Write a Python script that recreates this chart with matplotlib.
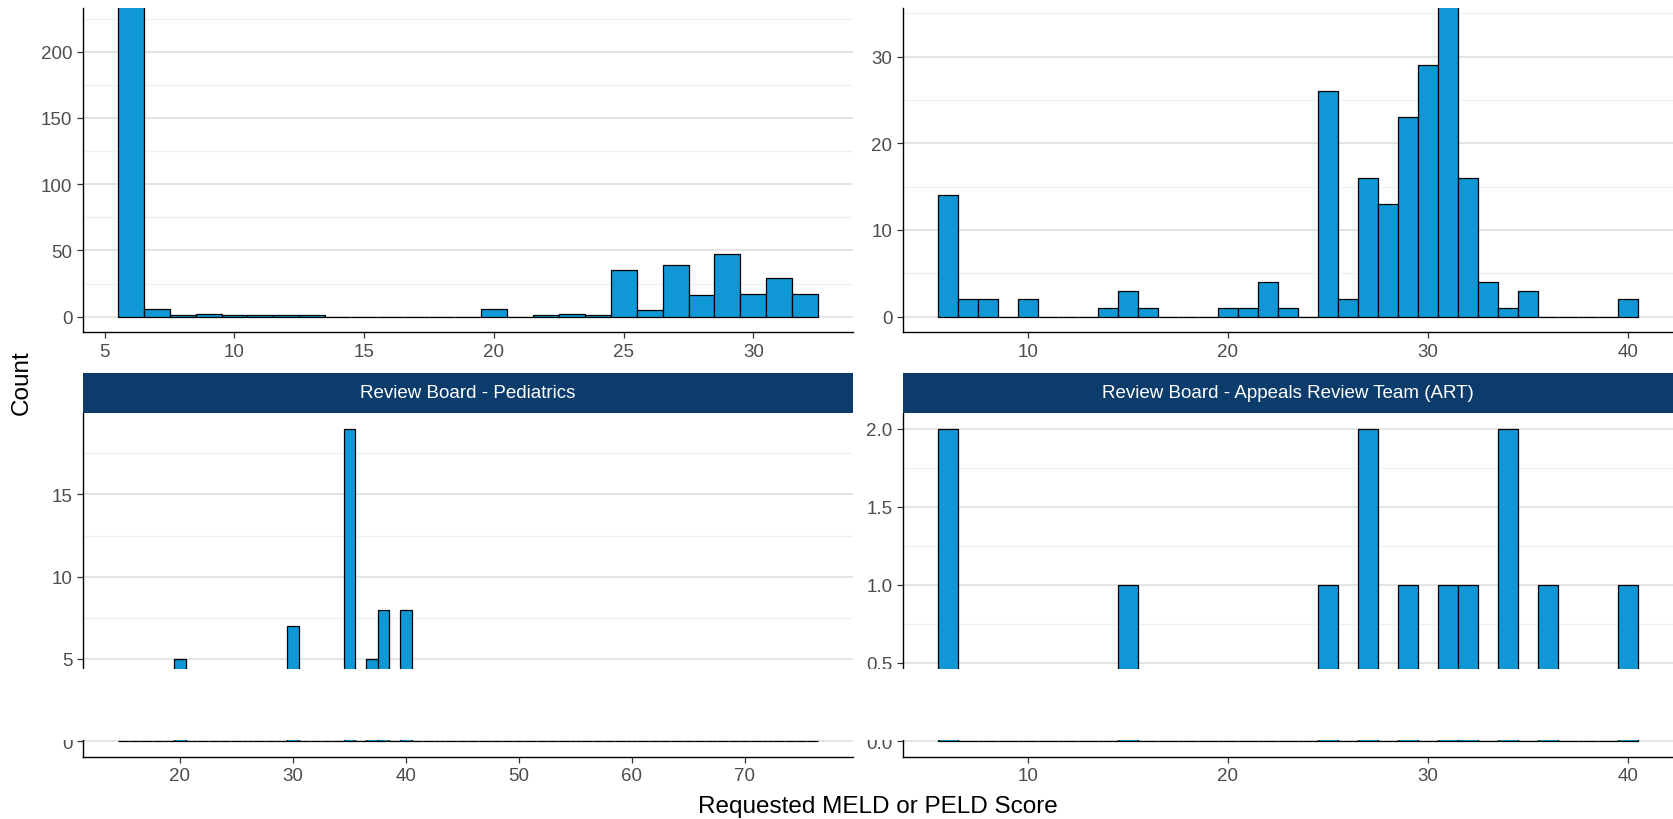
import matplotlib
matplotlib.use("Agg")
import matplotlib.pyplot as plt
from matplotlib.patches import Rectangle
import numpy as np

plt.rcParams['font.family'] = ['Liberation Sans', 'DejaVu Sans']

W, H = 1673, 820
DPI = 100

# ---------------- data (bin centres, binwidth 1) ----------------
tl_bins = list(range(6, 33))
tl_counts = [236, 6, 1, 2, 1, 1, 1, 1, 0, 0, 0, 0, 0, 0, 6, 0, 1, 2, 1,
             35, 5, 39, 16, 47, 17, 29, 17]
tl_xticks = [5, 10, 15, 20, 25, 30]
tl_yticks = [0, 50, 100, 150, 200]

tr_bins = list(range(6, 41))
tr_counts = [14, 2, 2, 0, 2, 0, 0, 0, 1, 3, 1, 0, 0, 0, 1, 1, 4, 1, 0,
             26, 2, 16, 13, 23, 29, 36, 16, 4, 1, 3, 0, 0, 0, 0, 2]
tr_xticks = [10, 20, 30, 40]
tr_yticks = [0, 10, 20, 30]

bl_bins = list(range(15, 77))
bl_values = {20: 5, 30: 7, 35: 19, 37: 5, 38: 8, 40: 8}
bl_counts = [bl_values.get(b, 0) for b in bl_bins]
bl_xticks = [20, 30, 40, 50, 60, 70]
bl_yticks = [0, 5, 10, 15]

br_bins = list(range(6, 41))
br_values = {6: 2, 15: 1, 25: 1, 27: 2, 29: 1, 31: 1, 32: 1, 34: 2, 36: 1, 40: 1}
br_counts = [br_values.get(b, 0) for b in br_bins]
br_xticks = [10, 20, 30, 40]
br_yticks = [0.0, 0.5, 1.0, 1.5, 2.0]
br_ylabels = ['0.0', '0.5', '1.0', '1.5', '2.0']

strip_bl = "Review Board - Pediatrics"
strip_br = "Review Board - Appeals Review Team (ART)"
xlabel = "Requested MELD or PELD Score"
ylabel = "Count"

# ---------------- style ----------------
BAR = "#1097d5"
STRIP = "#0c3c6b"
GRID_MAJ = "#dcdcdc"
GRID_MIN = "#f0f0f0"
TICKC = "#4d4d4d"
FS = 13.5

fig = plt.figure(figsize=(W / DPI, H / DPI), dpi=DPI)
fig.patch.set_facecolor("white")


def rect(x0, y0, x1, y1):
    return [x0 / W, 1 - y1 / H, (x1 - x0) / W, (y1 - y0) / H]


def panel(box, bins, counts, xticks, yticks, ylabels=None, ytop=None):
    ax = fig.add_axes(rect(*box))
    bins = np.asarray(bins, float)
    counts = np.asarray(counts, float)
    ax.bar(bins, counts, width=1.0, color=BAR, edgecolor="black",
           linewidth=0.9, zorder=3)
    ax.set_xticks(xticks)
    ax.set_yticks(yticks)
    if ylabels is not None:
        ax.set_yticklabels(ylabels)
    step = yticks[1] - yticks[0]
    minors = [t + step / 2 for t in yticks]
    ax.set_yticks(minors, minor=True)
    lo, hi = bins.min() - 0.5, bins.max() + 0.5
    span = hi - lo
    ax.set_xlim(lo - 0.05 * span, hi + 0.05 * span)
    cmax = counts.max()
    ax.set_ylim(-0.05 * cmax, ytop if ytop is not None else 1.05 * cmax)
    ax.yaxis.grid(True, which="major", color=GRID_MAJ, lw=1.1, zorder=0)
    ax.yaxis.grid(True, which="minor", color=GRID_MIN, lw=1.0, zorder=0)
    ax.xaxis.grid(False)
    ax.set_axisbelow(True)
    for s in ["top", "right"]:
        ax.spines[s].set_visible(False)
    for s in ["left", "bottom"]:
        ax.spines[s].set_color("black")
        ax.spines[s].set_linewidth(1.0)
    ax.tick_params(axis="both", which="major", length=4, width=0.9,
                   color="#333333", labelcolor=TICKC, labelsize=FS, pad=3.5)
    ax.tick_params(axis="y", which="minor", length=0)
    ax.set_facecolor("white")
    return ax


LX0, LX1 = 82.7, 853.3
RX0, RX1 = 902.7, 1673
TY0, TY1 = 9, 333.3
BY0, BY1 = 414, 757.7
SY0 = 374

panel((LX0, TY0, LX1, TY1), tl_bins, tl_counts, tl_xticks, tl_yticks, ytop=233)
panel((RX0, TY0, RX1, TY1), tr_bins, tr_counts, tr_xticks, tr_yticks, ytop=35.6)
panel((LX0, BY0, LX1, BY1), bl_bins, bl_counts, bl_xticks, bl_yticks)
panel((RX0, BY0, RX1, BY1), br_bins, br_counts, br_xticks, br_yticks, br_ylabels)

for (x0, x1, txt) in [(LX0, LX1, strip_bl), (RX0, RX1, strip_br)]:
    sax = fig.add_axes(rect(x0, SY0, x1, BY0))
    sax.set_facecolor(STRIP)
    sax.set_xticks([]); sax.set_yticks([])
    for s in sax.spines.values():
        s.set_visible(False)
    sax.text(0.5, 0.5, txt, color="white", fontsize=FS, ha="center",
             va="center", transform=sax.transAxes)

fig.text(877.8 / W, 1 - 807 / H, xlabel, fontsize=17.5, ha="center",
         va="center", color="black")
fig.text(22 / W, 1 - 383 / H, ylabel, fontsize=17.5, ha="center",
         va="center", rotation=90, color="black")

# white occluding band seen in the reference
fig.patches.append(Rectangle((0, 1 - 741.4 / H), 1, 71.4 / H, transform=fig.transFigure,
                             facecolor="white", edgecolor="none", zorder=100))

fig.savefig("out.png", dpi=DPI, facecolor="white")
